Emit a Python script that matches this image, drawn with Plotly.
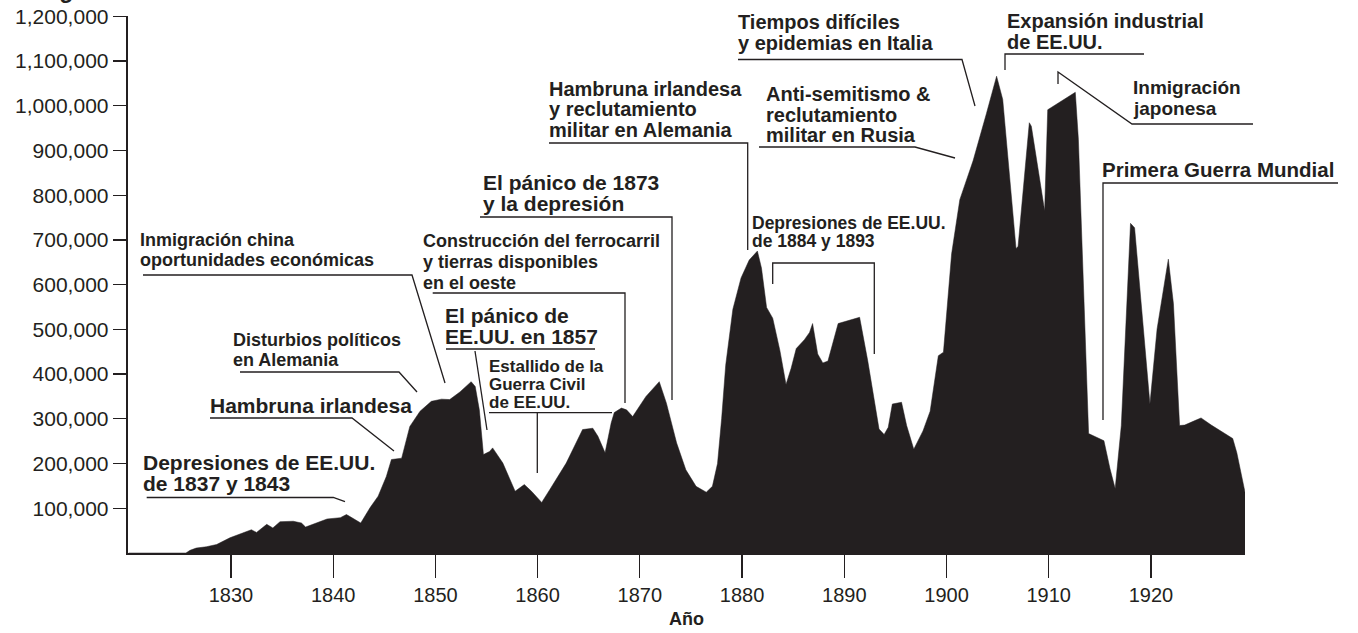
import plotly.graph_objects as go

# ---------------- data ----------------
years = [1820.0, 1825.6, 1826.0, 1826.6, 1827.6, 1828.6, 1829.9, 1831.2, 1832.0, 1832.5,
         1833.5, 1834.1, 1834.8, 1836.1, 1836.9, 1837.3, 1838.2, 1839.4, 1840.7, 1841.3,
         1841.6, 1842.7, 1843.6, 1844.4, 1845.2, 1845.7, 1846.7, 1847.5, 1848.5, 1849.6,
         1850.6, 1851.4, 1852.4, 1853.5, 1853.9, 1854.3, 1854.7, 1855.3, 1855.6, 1856.6,
         1857.8, 1858.7, 1859.4, 1860.4, 1861.2, 1862.8, 1864.4, 1865.4, 1865.9, 1866.6,
         1867.2, 1867.5, 1868.2, 1868.7, 1869.3, 1870.6, 1871.9, 1872.6, 1873.6, 1874.5,
         1875.5, 1876.5, 1877.1, 1877.6, 1878.0, 1878.4, 1879.1, 1879.9, 1880.7, 1881.5,
         1881.9, 1882.4, 1883.0, 1883.7, 1884.3, 1884.8, 1885.3, 1886.1, 1886.6, 1886.9,
         1887.4, 1887.9, 1888.4, 1889.4, 1891.5, 1892.3, 1893.4, 1893.9, 1894.3, 1894.7,
         1895.6, 1896.1, 1896.8, 1897.7, 1898.4, 1898.8, 1899.2, 1899.7, 1900.5, 1901.3,
         1902.6, 1903.9, 1904.9, 1905.5, 1906.2, 1906.8, 1907.0, 1908.1, 1908.3, 1909.6,
         1909.9, 1912.6, 1912.9, 1913.9, 1915.4, 1916.0, 1916.5, 1917.1, 1918.0, 1918.4,
         1919.9, 1920.6, 1921.7, 1922.2, 1922.8, 1923.3, 1924.3, 1924.9, 1925.9, 1927.2,
         1928.0, 1928.4, 1928.8, 1929.2]

immigrants = [0, 0, 6000, 11000, 14000, 19000, 34000, 46000, 52000, 46000,
              64000, 56000, 70000, 71000, 67000, 58000, 65000, 76000, 79000, 86000,
              82000, 67000, 101000, 127000, 171000, 209000, 212000, 283000, 317000, 339000,
              344000, 343000, 360000, 383000, 372000, 320000, 220000, 227000, 235000, 201000,
              138000, 153000, 138000, 113000, 142000, 201000, 276000, 279000, 261000, 224000,
              291000, 314000, 324000, 320000, 305000, 350000, 383000, 335000, 246000, 186000,
              149000, 136000, 149000, 200000, 300000, 420000, 545000, 615000, 655000, 675000,
              637000, 549000, 525000, 453000, 377000, 413000, 457000, 477000, 493000, 513000,
              445000, 425000, 429000, 513000, 527000, 429000, 277000, 265000, 281000, 333000,
              337000, 285000, 232000, 273000, 317000, 385000, 441000, 449000, 669000, 790000,
              877000, 982000, 1066000, 1014000, 829000, 681000, 685000, 962000, 954000, 765000,
              991000, 1030000, 925000, 267000, 251000, 188000, 144000, 285000, 737000, 727000,
              333000, 501000, 657000, 557000, 285000, 286000, 296000, 302000, 286000, 268000,
              256000, 224000, 180000, 136000]

y_tick_values = [100000, 200000, 300000, 400000, 500000, 600000,
                 700000, 800000, 900000, 1000000, 1100000, 1200000]
y_tick_labels = ["100,000", "200,000", "300,000", "400,000", "500,000", "600,000",
                 "700,000", "800,000", "900,000", "1,000,000", "1,100,000", "1,200,000"]
x_tick_values = [1830, 1840, 1850, 1860, 1870, 1880, 1890, 1900, 1910, 1920]
x_tick_labels = ["1830", "1840", "1850", "1860", "1870", "1880", "1890", "1900", "1910", "1920"]

x_title = "Año"
chart_title = "Inmigración a los Estados Unidos"

# ---------------- layout geometry & style ----------------
INK = "#231f20"
FONT = "Liberation Sans"
W, H = 1358, 633
PLOT_L, PLOT_R, PLOT_T, PLOT_B = 128, 1245, 16, 553   # plot area (px)
L, T, R, B = PLOT_L, PLOT_T, W - PLOT_R, H - PLOT_B
PW, PH = PLOT_R - PLOT_L, PLOT_B - PLOT_T
Y_TOP = 1200600                   # tiny headroom so the top tick is kept


def px(X):
    return (X - PLOT_L) / PW


def py(Y):
    return (PLOT_B - Y) / PH


# event labels: (text, left x px, cap-middle y px, font size)
notes = [
    ("Depresiones de EE.UU.", 143, 462.5, 21),
    ("de 1837 y 1843", 143, 483.5, 21),
    ("Inmigración china", 140, 240.3, 18),
    ("oportunidades económicas", 140, 259.8, 18),
    ("Disturbios políticos", 233, 339.6, 18),
    ("en Alemania", 233, 360.3, 18),
    ("Hambruna irlandesa", 210, 405.2, 21),
    ("El pánico de", 445, 315.2, 21),
    ("EE.UU. en 1857", 445, 336.5, 21),
    ("Estallido de la", 489, 366.3, 17),
    ("Guerra Civil", 489, 384.5, 17),
    ("de EE.UU.", 489, 402.7, 17),
    ("Construcción del ferrocarril", 422.5, 240.9, 18),
    ("y tierras disponibles", 422.5, 262.1, 18),
    ("en el oeste", 422.5, 282.8, 18),
    ("El pánico de 1873", 483, 182.0, 21),
    ("y la depresión", 483, 203.4, 21),
    ("Hambruna irlandesa", 549, 89.0, 20),
    ("y reclutamiento", 549, 109.5, 20),
    ("militar en Alemania", 549, 130.0, 20),
    ("Depresiones de EE.UU.", 751.5, 222.6, 17.5),
    ("de 1884 y 1893", 751.5, 240.5, 17.5),
    ("Anti-semitismo &", 766, 94.0, 20),
    ("reclutamiento", 766, 114.5, 20),
    ("militar en Rusia", 766, 135.0, 20),
    ("Tiempos difíciles", 738, 22.0, 20),
    ("y epidemias en Italia", 738, 43.0, 20),
    ("Expansión industrial", 1006.5, 21.0, 20),
    ("de EE.UU.", 1006.5, 42.0, 20),
    ("Inmigración", 1133, 88.0, 19),
    ("japonesa", 1133, 109.0, 19),
    ("Primera Guerra Mundial", 1101.5, 169.0, 20.5),
]

# leader lines in pixel coordinates
leaders = [
    [(146.7, 497.5), (333.3, 497.5), (345, 501.7)],
    [(143, 275), (412, 275), (445, 383)],
    [(240, 372), (399, 372), (417, 392)],
    [(210, 418), (352, 418), (394, 451)],
    [(446, 349), (595, 349)],
    [(475, 351), (487, 430)],
    [(489, 412.7), (612, 412.7)],
    [(537.3, 412.7), (537.3, 473)],
    [(432.7, 293), (625, 293), (625, 403)],
    [(480, 217), (672, 217), (672, 400)],
    [(549, 143), (747.7, 143), (747.7, 250)],
    [(772.7, 284), (772.7, 263), (874.3, 263), (874.3, 354)],
    [(759, 147), (915, 147), (955, 158)],
    [(738, 59.5), (962, 59.5), (975, 106)],
    [(1005, 70), (1005, 54), (1144, 54)],
    [(1058, 84), (1058, 72), (1132, 124), (1253, 124)],
    [(1103, 420), (1103, 183), (1338, 183)],
]

fig = go.Figure()
fig.add_trace(go.Scatter(
    x=years, y=immigrants, mode="lines",
    line=dict(color=INK, width=0.5),
    fill="tozeroy", fillcolor=INK, hoverinfo="skip", showlegend=False,
))

annotations = []
for text, X, Y, size in notes:
    annotations.append(dict(
        text=text, xref="paper", yref="paper", x=px(X), y=py(Y),
        xanchor="left", yanchor="middle", showarrow=False,
        borderpad=0, borderwidth=0,
        font=dict(family=FONT, size=size, color=INK, weight="bold"),
    ))
annotations.append(dict(
    text=x_title, xref="paper", yref="paper", x=px(686.5), y=py(619),
    xanchor="center", yanchor="middle", showarrow=False, borderpad=0, borderwidth=0,
    font=dict(family=FONT, size=18, color=INK, weight="bold"),
))
annotations.append(dict(
    text=chart_title, xref="paper", yref="paper", x=px(12), y=py(-10.5),
    xanchor="left", yanchor="middle", showarrow=False, borderpad=0, borderwidth=0,
    font=dict(family=FONT, size=23, color=INK, weight="bold"),
))

shapes = []
for pts in leaders:
    path = "M " + " L ".join(f"{px(X):.5f},{py(Y):.5f}" for X, Y in pts)
    shapes.append(dict(type="path", xref="paper", yref="paper", path=path,
                       line=dict(color=INK, width=1.3)))

fig.update_layout(
    width=W, height=H, autosize=False,
    margin=dict(l=L, r=R, t=T, b=B, pad=0, autoexpand=False),
    paper_bgcolor="white", plot_bgcolor="white",
    showlegend=False,
    annotations=annotations,
    shapes=shapes,
    xaxis=dict(
        range=[1819.93, 1929.2], showgrid=False, zeroline=False, automargin=False,
        showline=True, linecolor=INK, linewidth=2,
        ticks="outside", ticklen=23, tickwidth=1.3, tickcolor=INK,
        tickvals=x_tick_values, ticktext=x_tick_labels,
        tickfont=dict(family=FONT, size=20, color=INK),
        fixedrange=True,
    ),
    yaxis=dict(
        range=[0, Y_TOP], showgrid=False, zeroline=False, automargin=False,
        showline=True, linecolor=INK, linewidth=2.3,
        ticks="outside", ticklen=13, tickwidth=1.3, tickcolor=INK,
        tickvals=y_tick_values, ticktext=y_tick_labels,
        tickfont=dict(family=FONT, size=21, color=INK),
        ticklabeloverflow="allow",
        fixedrange=True,
    ),
)

# remove the page's default body margin so the figure sits at the window's corner
fig.write_html("out.html",
               config={"displayModeBar": False, "staticPlot": True},
               post_script="document.body.style.margin='0';document.body.style.overflow='hidden';")
